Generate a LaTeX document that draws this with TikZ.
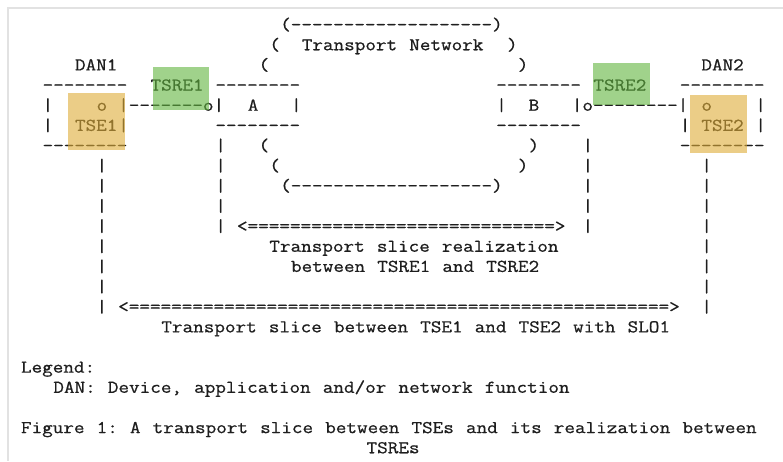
\documentclass[tikz,border=0pt]{standalone}
\usepackage{fontspec}
\newfontfamily\asciifont{Latin Modern Mono}[FakeStretch=1.143, FakeBold=0.7,
  WordSpace={1.143,0,0}, PunctuationSpace=WordSpace, HyphenChar=None]
\definecolor{ink}{HTML}{1E1E1E}
\definecolor{frameline}{HTML}{E2E2E2}
\definecolor{tsegold}{RGB}{222,172,55}
\definecolor{tsregreen}{RGB}{97,180,63}
\tikzset{
  asc/.style={anchor=base west, inner sep=0pt, outer sep=0pt, text=ink,
              font=\asciifont\fontsize{18}{20}\selectfont},
  tsehl/.style={fill=tsegold, fill opacity=0.6},
  tsrehl/.style={fill=tsregreen, fill opacity=0.6},
}
\begin{document}
\begin{tikzpicture}[x=1pt,y=1pt]
\useasboundingbox (0,0) rectangle (783,-461);
\fill[white] (0,0) rectangle (783,-461);
\draw[frameline, line width=1.2pt] (8,-461) -- (8,-8) -- (783,-8);

% character grid: x = column, y = row
\begin{scope}[shift={(21pt,-30.1pt)}, x=10.8pt, y=-20.15pt]
  % transport network cloud
  \node[asc] (cloudtop) at (24,0) {(-------------------)};
  \node[asc] (cloudl1) at (23,1) {(};
  \node[asc] (tnlabel) at (26,1) {Transport Network};
  \node[asc] (cloudr1) at (45,1) {)};
  \node[asc] (cloudl2) at (22,2) {(};
  \node[asc] (cloudr2) at (46,2) {)};
  \node[asc] (cloudl6) at (22,6) {(};
  \node[asc] (cloudr6) at (47,6) {)};
  \node[asc] (cloudl7) at (23,7) {(};
  \node[asc] (cloudr7) at (46,7) {)};
  \node[asc] (cloudbot) at (24,8) {(-------------------)};

  % DAN1 with TSE1
  \node[asc] (dan1) at (5,2) {DAN1};
  \node[asc] (dan1top) at (2,3) {--------};
  \node[asc] (dan1l4) at (2,4) {|};
  \node[asc] (tse1o) at (7,4) {o};
  \node[asc] (dan1l5) at (2,5) {|};
  \node[asc] (tse1) at (5,5) {TSE1};
  \node[asc] (dan1r5) at (9,5) {|};
  \node[asc] (dan1bot) at (2,6) {--------};

  % link DAN1 -- A with TSRE1
  \node[asc] (tsre1) at (12,3) {TSRE1};
  \node[asc] (link1) at (9,4) {|-------o|};

  % PE A
  \node[asc] (atop) at (18,3) {--------};
  \node[asc] (alabel) at (21,4) {A};
  \node[asc] (ar4) at (25,4) {|};
  \node[asc] (abot) at (18,5) {--------};

  % PE B
  \node[asc] (btop) at (44,3) {--------};
  \node[asc] (bl4) at (44,4) {|};
  \node[asc] (blabel) at (47,4) {B};
  \node[asc] (bbot) at (44,5) {--------};

  % link B -- DAN2 with TSRE2
  \node[asc] (tsre2) at (53,3) {TSRE2};
  \node[asc] (link2) at (51,4) {|o--------|};

  % DAN2 with TSE2
  \node[asc] (dan2) at (63,2) {DAN2};
  \node[asc] (dan2top) at (61,3) {--------};
  \node[asc] (tse2o) at (63,4) {o};
  \node[asc] (dan2r4) at (68,4) {|};
  \node[asc] (dan2l5) at (61,5) {|};
  \node[asc] (tse2) at (63,5) {TSE2};
  \node[asc] (dan2r5) at (68,5) {|};
  \node[asc] (dan2bot) at (61,6) {--------};

  % drop lines below TSRE1 and TSRE2
  \foreach \r in {6,...,10} {
    \node[asc] (tsre1drop\r) at (18,\r) {|};
    \node[asc] (tsre2drop\r) at (52,\r) {|};
  }
  % drop lines below TSE1 and TSE2
  \foreach \r in {7,...,14} {
    \node[asc] (tse1drop\r) at (7,\r) {|};
    \node[asc] (tse2drop\r) at (63,\r) {|};
  }

  % slice realization between TSREs
  \node[asc] (realarrow) at (20,10) {<=============================>};
  \node[asc] (reallabel1) at (23,11) {Transport slice realization};
  \node[asc] (reallabel2) at (25,12) {between TSRE1 and TSRE2};

  % slice between TSEs
  \node[asc] (slicearrow) at (9,14) {<===================================================>};
  \node[asc] (slicelabel) at (13,15) {Transport slice between TSE1 and TSE2 with SLO1};

  % legend and caption
  \node[asc] (legend) at (0,17) {Legend:};
  \node[asc] (legenddan) at (3,18) {DAN: Device, application and/or network function};
  \node[asc] (caption1) at (0,20) {Figure 1: A transport slice between TSEs and its realization between};
  \node[asc] (caption2) at (32,21) {TSREs};
\end{scope}

% highlight overlays
\fill[tsehl] (68,-93) rectangle (125,-150);
\fill[tsrehl] (153,-67) rectangle (209,-110);
\fill[tsrehl] (593,-63) rectangle (650,-105);
\fill[tsehl] (690,-95) rectangle (747,-153);
\end{tikzpicture}
\end{document}
